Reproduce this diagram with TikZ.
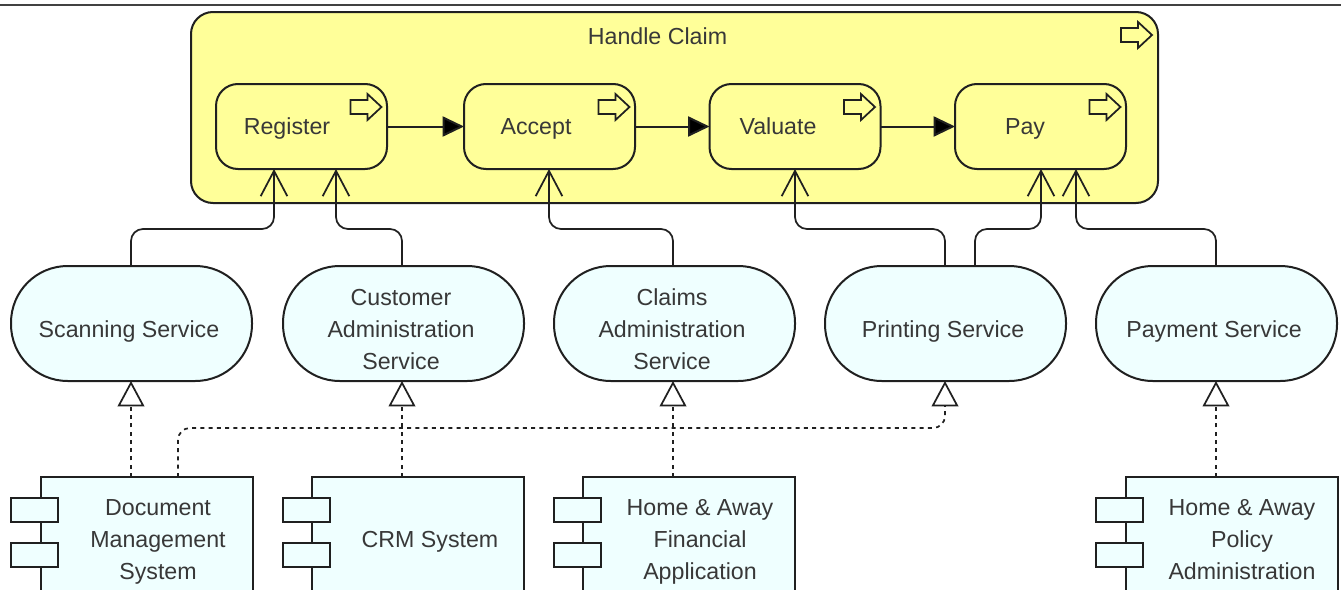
\documentclass[tikz,border=0pt]{standalone}
\usepackage{fontspec}
\setmainfont{Liberation Sans}
\usetikzlibrary{arrows.meta,calc}
\definecolor{procfill}{HTML}{FFFF99}
\definecolor{servfill}{HTML}{EFFFFF}
\definecolor{inkline}{HTML}{202020}
\definecolor{inktext}{HTML}{383838}
\newcommand{\tln}[1]{\strut #1}
\tikzset{
  every node/.style={inner sep=0pt,outer sep=0pt},
  lbl/.style={font=\fontsize{17.4pt}{24pt}\selectfont,text=inktext,align=center},
  mainproc/.style={draw=inkline,line width=1.5pt,fill=procfill,rounded corners=16.5pt,minimum width=725.25pt,minimum height=143.25pt},
  subproc/.style={draw=inkline,line width=1.5pt,fill=procfill,rounded corners=16.5pt,minimum width=128.25pt,minimum height=63.75pt},
  service/.style={draw=inkline,line width=1.5pt,fill=servfill,rounded corners=42.5pt,minimum width=180.75pt,minimum height=86.25pt},
  comp/.style={draw=inkline,line width=1.5pt,fill=servfill,minimum width=159pt,minimum height=120pt},
  tab/.style={draw=inkline,line width=1.5pt,fill=servfill,minimum width=35.25pt,minimum height=18pt},
  trigger/.style={draw=inkline,line width=1.5pt,-{Triangle[length=16pt,width=15pt,fill=black]}},
  serves/.style={draw=inkline,line width=1.3pt,rounded corners=9pt,-{Straight Barb[length=19pt,width=20pt,line width=1.3pt]}},
  realize/.style={draw=inkline,line width=1.3pt,rounded corners=9pt,dash pattern=on 3pt off 3.2pt,-{Triangle[length=19pt,width=20pt,fill=white,line width=1.3pt]}},
  procicon/.pic={\draw[draw=inkline,line width=1.3pt,fill=procfill,line join=miter]
    (-31,-7) -- (-14,-7) -- (-14,-13) -- (0,0) -- (-14,13) -- (-14,7) -- (-31,7) -- cycle;}
}
\begin{document}
\begin{tikzpicture}[x=0.75pt,y=-0.75pt]
\clip (0,0) rectangle (1341,589);
\fill[white] (0,0) rectangle (1341,589);
\coordinate (ruleL) at (0,5);
\coordinate (ruleR) at (1341,5);
\draw[draw=inkline!85,line width=1.2pt] (ruleL) -- (ruleR);

\node[mainproc] (claim) at (674.5,107.5) {};
\node[lbl] (claimT) at (657.5,38) {\tln{Handle Claim}};
\pic at (1152,35) {procicon};

\node[subproc] (reg) at (301.5,126.5) {};
\node[subproc] (acc) at (549.5,126.5) {};
\node[subproc] (val) at (795,126.5) {};
\node[subproc] (pay) at (1040.5,126.5) {};
\node[lbl] (regT) at (287,128) {\tln{Register}};
\node[lbl] (accT) at (536,128) {\tln{Accept}};
\node[lbl] (valT) at (778,128) {\tln{Valuate}};
\node[lbl] (payT) at (1025,128) {\tln{Pay}};
\pic at (381.5,107) {procicon};
\pic at (629.5,107) {procicon};
\pic at (875,107) {procicon};
\pic at (1120.5,107) {procicon};

\draw[trigger] (reg.east) -- (acc.west);
\draw[trigger] (acc.east) -- (val.west);
\draw[trigger] (val.east) -- (pay.west);

\node[service] (scan) at (131.5,323.5) {};
\node[service] (cust) at (403.5,323.5) {};
\node[service] (clms) at (674.5,323.5) {};
\node[service] (prnt) at (945.5,323.5) {};
\node[service] (pmnt) at (1216.5,323.5) {};
\node[lbl] at (129,331.5) {\tln{Scanning Service}};
\node[lbl] at (401,331.5) {\tln{Customer}\\\tln{Administration}\\\tln{Service}};
\node[lbl] at (672,331.5) {\tln{Claims}\\\tln{Administration}\\\tln{Service}};
\node[lbl] at (943,331.5) {\tln{Printing Service}};
\node[lbl] at (1214,331.5) {\tln{Payment Service}};

\coordinate (regA) at (274,169);
\coordinate (regB) at (336,169);
\coordinate (accA) at (549,169);
\coordinate (valA) at (795,169);
\coordinate (payA) at (1041,169);
\coordinate (payB) at (1076,169);
\coordinate (scanN) at (131,266);
\coordinate (custN) at (402,266);
\coordinate (clmsN) at (673,266);
\coordinate (prntN) at (945,266);
\coordinate (prntR) at (975,266);
\coordinate (pmntN) at (1216,266);
\coordinate (scanS) at (131,381);
\coordinate (custS) at (402,381);
\coordinate (clmsS) at (673,381);
\coordinate (prntS) at (945,381);
\coordinate (pmntS) at (1216,381);

\draw[serves] (scanN) -- ++(0,-37) -| (regA);
\draw[serves] (custN) -- ++(0,-37) -| (regB);
\draw[serves] (clmsN) -- ++(0,-37) -| (accA);
\draw[serves] (prntN) -- ++(0,-37) -| (valA);
\draw[serves] (prntR) -- ++(0,-37) -| (payA);
\draw[serves] (pmntN) -- ++(0,-37) -| (payB);

\node[comp] (dms) at (147,557) {};
\node[comp] (crm) at (418,557) {};
\node[comp] (fin) at (689,557) {};
\node[comp] (pol) at (1232,557) {};
\node[tab] at (34.5,510) {};
\node[tab] at (34.5,555) {};
\node[tab] at (306,510) {};
\node[tab] at (306,555) {};
\node[tab] at (577,510) {};
\node[tab] at (577,555) {};
\node[tab] at (1119.5,510) {};
\node[tab] at (1119.5,555) {};
\node[lbl] at (158,541.5) {\tln{Document}\\\tln{Management}\\\tln{System}};
\node[lbl] at (430,541.5) {\tln{CRM System}};
\node[lbl] at (700,541.5) {\tln{Home \& Away}\\\tln{Financial}\\\tln{Application}};
\node[lbl] at (1242,541.5) {\tln{Home \& Away}\\\tln{Policy}\\\tln{Administration}};

\coordinate (dmsR) at (178,477);
\draw[realize] (scanS |- dms.north) -- (scanS);
\draw[realize] (custS |- crm.north) -- (custS);
\draw[realize] (clmsS |- fin.north) -- (clmsS);
\draw[realize] (pmntS |- pol.north) -- (pmntS);
\draw[realize] (dmsR) -- ++(0,-49) -| (prntS);
\end{tikzpicture}
\end{document}
